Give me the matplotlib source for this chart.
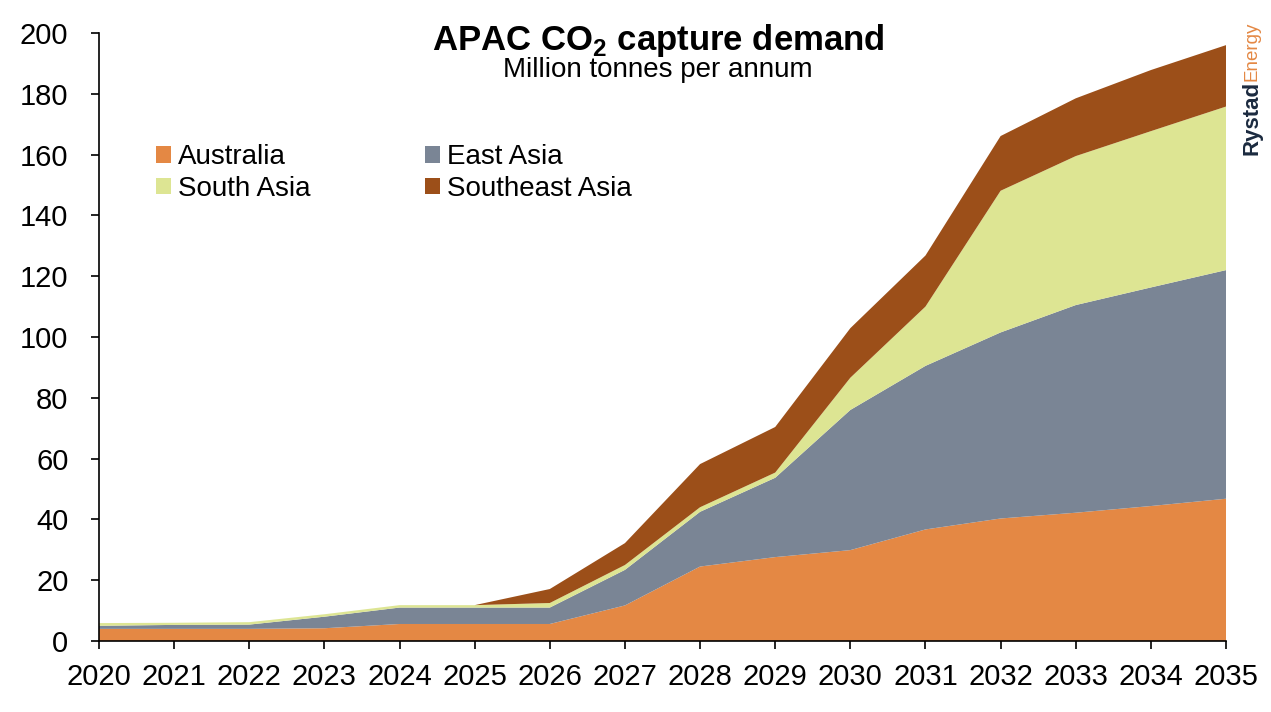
import matplotlib
matplotlib.use("Agg")
import matplotlib.pyplot as plt
from matplotlib.patches import Patch

plt.rcParams['font.family'] = ['Liberation Sans', 'DejaVu Sans']
plt.rcParams['mathtext.fontset'] = 'custom'
plt.rcParams['mathtext.bf'] = 'Liberation Sans:bold'
plt.rcParams['mathtext.rm'] = 'Liberation Sans'

# Data (million tonnes per annum)
years = list(range(2020, 2036))
australia = [4.0, 4.0, 4.0, 4.2, 5.6, 5.6, 5.6, 11.7, 24.5, 27.6, 29.9, 36.7, 40.3, 42.2, 44.4, 46.8]
east_asia = [1.0, 1.3, 1.4, 3.8, 5.4, 5.4, 5.4, 11.7, 18.0, 26.1, 46.1, 53.8, 61.2, 68.3, 71.9, 75.2]
south_asia = [0.9, 0.7, 0.8, 0.8, 0.8, 0.8, 1.5, 1.6, 1.5, 1.7, 10.6, 19.5, 46.6, 49.0, 51.4, 53.8]
southeast_asia = [0, 0, 0, 0, 0, 0, 4.6, 7.2, 14.2, 15.0, 16.3, 16.8, 18.0, 19.0, 20.1, 20.2]

labels = ['Australia', 'East Asia', 'South Asia', 'Southeast Asia']
colors = ['#E48844', '#7A8595', '#DDE593', '#9C4F19']
y_ticks = list(range(0, 201, 20))

fig = plt.figure(figsize=(12.71, 7.12), dpi=100)
ax = fig.add_axes([0.0779, 0.0997, 0.8867, 0.854])

ax.stackplot(years, australia, east_asia, south_asia, southeast_asia,
             colors=colors, linewidth=0)

ax.set_xlim(2020, 2035)
ax.set_ylim(0, 200)
ax.set_xticks(years)
ax.set_yticks(y_ticks)
ax.tick_params(axis='both', labelsize=21, length=6, width=1.2, direction='out')
ax.tick_params(axis='y', pad=16)
ax.tick_params(axis='x', pad=10)
for s in ['top', 'right']:
    ax.spines[s].set_visible(False)
for s in ['left', 'bottom']:
    ax.spines[s].set_linewidth(1.2)

# title and subtitle
ax.text(0.496, 1.018, r'APAC CO$_\mathbf{2}$ capture demand', transform=ax.transAxes,
        ha='center', va='top', fontsize=25, fontweight='bold')
ax.text(0.496, 0.96, 'Million tonnes per annum', transform=ax.transAxes,
        ha='center', va='top', fontsize=20)

# legend filled row by row: Australia, East Asia / South Asia, Southeast Asia
order = [0, 2, 1, 3]
handles = [Patch(facecolor=colors[i], edgecolor='none') for i in order]
ax.legend(handles, [labels[i] for i in order], ncol=2, loc='upper left',
          bbox_to_anchor=(0.041, 0.835), frameon=False, fontsize=20,
          handlelength=0.54, handleheight=0.54, handletextpad=0.25,
          columnspacing=4.1, labelspacing=0.2, borderaxespad=0)

# logo
fig.canvas.draw()
t1 = fig.text(0.985, 0.782, 'Rystad', rotation=90, ha='center', va='bottom',
              fontsize=16, fontweight='bold', color='#1B2A3F')
fig.canvas.draw()
bb = t1.get_window_extent().transformed(fig.transFigure.inverted())
fig.text(0.985, bb.y1, 'Energy', rotation=90, ha='center', va='bottom',
         fontsize=13.5, color='#E48844')

fig.savefig('out.png', dpi=100)
